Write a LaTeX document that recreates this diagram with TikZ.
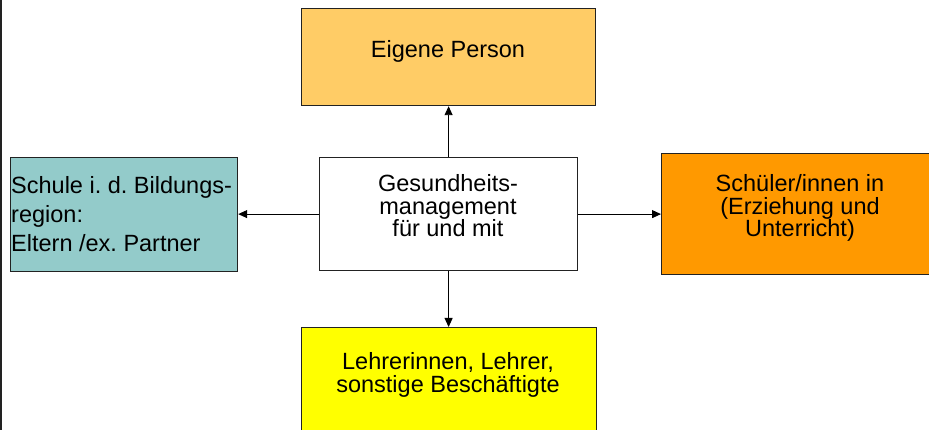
\documentclass[tikz,border=0pt]{standalone}
\usepackage{fontspec}
\setmainfont{Liberation Sans}
\usetikzlibrary{arrows.meta}
\frenchspacing
\definecolor{eigenfill}{HTML}{FFCC66}
\definecolor{tealfill}{HTML}{93CBCA}
\definecolor{orangefill}{HTML}{FF9900}
\definecolor{yellowfill}{HTML}{FFFF00}
\definecolor{edgegray}{HTML}{222222}
\tikzset{
  box/.style={draw=edgegray, line width=1.2pt, inner sep=0pt, anchor=north west},
  lbl/.style={inner sep=0pt, anchor=base, font=\frenchspacing\fontsize{23.5}{22.5}\selectfont},
  conn/.style={draw=black, line width=0.9pt, -{Triangle[length=9pt,width=8pt]}}
}
\begin{document}
\begin{tikzpicture}[x=1pt,y=-1pt]
\useasboundingbox (0,0) rectangle (929,430);
\clip (0,0) rectangle (929,430);
\draw[line width=1.5pt, draw=edgegray] (1,-5) -- (1,440);
% boxes
\node[box, fill=eigenfill, minimum width=294pt, minimum height=97pt] (eig) at (301,8) {};
\node[box, fill=white, minimum width=258pt, minimum height=113pt] (ctr) at (319,157) {};
\node[box, fill=tealfill, minimum width=227pt, minimum height=114pt] (sch) at (10,157) {};
\node[box, fill=orangefill, minimum width=280pt, minimum height=121pt] (stu) at (661,153) {};
\node[box, fill=yellowfill, minimum width=295pt, minimum height=130pt] (leh) at (301,327) {};
% texts (base anchor = baseline of the last line)
\node[lbl] (teig) at (448,58) {Eigene Person};
\node[lbl, align=center] (tctr) at (448,237) {Gesundheits-\\management\\für und mit};
\node[lbl, anchor=base west, align=left, font=\frenchspacing\fontsize{23.5}{29}\selectfont] (tsch) at (11,252) {Schule i. d. Bildungs-\\region:\\Eltern /ex. Partner};
\node[lbl, align=center] (tstu) at (800,237) {Schüler/innen in\\(Erziehung und\\Unterricht)};
\node[lbl, align=center] (tleh) at (448,392) {Lehrerinnen, Lehrer,\\sonstige Beschäftigte};
% connectors
\draw[conn] (ctr.north) -- (ctr.north |- eig.south);
\draw[conn] (ctr.west) -- (sch.east |- ctr.west);
\draw[conn] (ctr.east) -- (stu.west |- ctr.east);
\draw[conn] (ctr.south) -- (ctr.south |- leh.north);
\end{tikzpicture}
\end{document}
